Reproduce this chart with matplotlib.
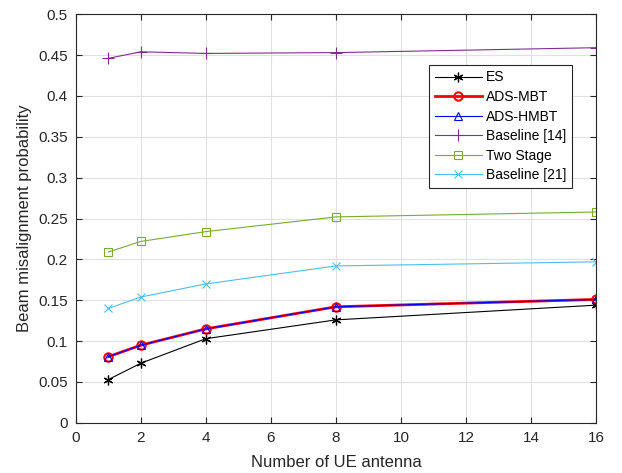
import matplotlib
matplotlib.use("Agg")
import matplotlib.pyplot as plt

plt.rcParams['font.family'] = ['Liberation Sans', 'DejaVu Sans']

x = [1, 2, 4, 8, 16]
es = [0.053, 0.073, 0.103, 0.126, 0.144]
ads_mbt = [0.081, 0.095, 0.115, 0.142, 0.151]
ads_hmbt = [0.081, 0.095, 0.115, 0.142, 0.151]
baseline14 = [0.446, 0.454, 0.452, 0.453, 0.459]
two_stage = [0.209, 0.222, 0.234, 0.252, 0.258]
baseline21 = [0.140, 0.154, 0.170, 0.192, 0.197]

fig = plt.figure(figsize=(6.22, 4.73), dpi=100)
ax = fig.add_axes([0.122, 0.106, 0.836, 0.864])

ax.plot(x, es, color='black', marker=(6, 2, 0), lw=0.8, ms=7, mew=0.9, label='ES')
ax.plot(x, ads_mbt, color='red', marker='o', lw=2, ms=6, mew=1.5, mfc='none', label='ADS-MBT')
ax.plot(x, ads_hmbt, color='blue', marker='^', lw=0.8, ms=6, mew=0.8, mfc='none', label='ADS-HMBT')
ax.plot(x, baseline14, color=(0.494, 0.184, 0.556), marker='+', lw=0.8, ms=8, mew=0.8, label='Baseline [14]')
ax.plot(x, two_stage, color=(0.467, 0.675, 0.188), marker='s', lw=0.8, ms=6, mew=0.8, mfc='none', label='Two Stage')
ax.plot(x, baseline21, color=(0.302, 0.745, 0.933), marker='x', lw=0.8, ms=6, mew=0.8, label='Baseline [21]')

ax.set_xlim(0, 16)
ax.set_ylim(0, 0.5)
ax.set_xticks(range(0, 17, 2))
yt = [i * 0.05 for i in range(11)]
ax.set_yticks(yt)
ax.set_yticklabels(['0', '0.05', '0.1', '0.15', '0.2', '0.25', '0.3', '0.35', '0.4', '0.45', '0.5'])
ax.grid(True, color=(0.88, 0.88, 0.88), lw=0.8)
ax.set_axisbelow(True)
ax.tick_params(direction='in', labelsize=11, colors=(0.15, 0.15, 0.15), top=True, right=True, length=4, pad=6)
for s in ax.spines.values():
    s.set_color((0.15, 0.15, 0.15))
    s.set_linewidth(0.8)
ax.set_xlabel('Number of UE antenna', fontsize=12, color=(0.15, 0.15, 0.15), labelpad=7)
ax.set_ylabel('Beam misalignment probability', fontsize=12, color=(0.15, 0.15, 0.15), labelpad=4)

leg = ax.legend(loc='upper left', bbox_to_anchor=(0.679, 0.876), fontsize=10, fancybox=False,
                edgecolor=(0.15, 0.15, 0.15), framealpha=1, handlelength=3.4, borderpad=0.4,
                labelspacing=0.4, handletextpad=0.3, borderaxespad=0)
leg.get_frame().set_linewidth(0.8)

fig.savefig('out.png', dpi=100)
